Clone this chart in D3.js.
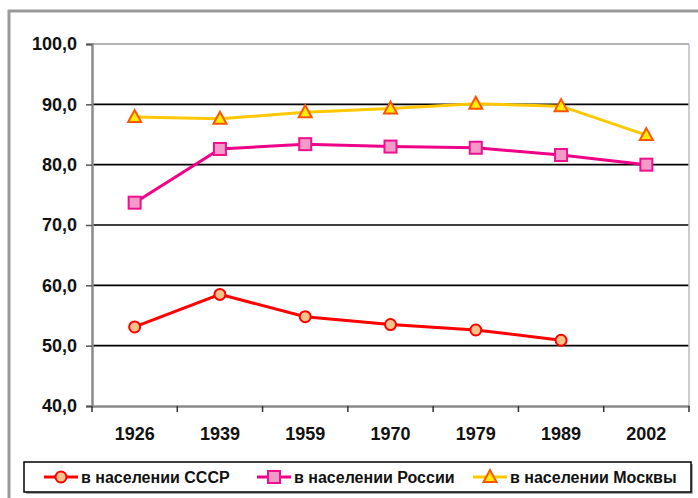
<!DOCTYPE html>
<html><head><meta charset="utf-8">
<script src="https://cdn.jsdelivr.net/npm/d3@7"></script>
<style>body{margin:0;background:#fff}svg{display:block}</style>
</head><body>
<script>
const years = ["1926","1939","1959","1970","1979","1989","2002"];
const seriesNames = ["в населении СССР","в населении России","в населении Москвы"];
const ussr = [53.1, 58.5, 54.8, 53.5, 52.6, 50.9, null];
const russia = [73.7, 82.6, 83.4, 83.0, 82.8, 81.6, 80.0];
const moscow = [87.9, 87.6, 88.7, 89.3, 90.1, 89.7, 84.9];
const yTicks = [40,50,60,70,80,90,100];

const W=698,H=498;
const svg=d3.select("body").append("svg").attr("width",W).attr("height",H);
const font="Liberation Sans, Arial, sans-serif";

// outer border
svg.append("rect").attr("x",9).attr("y",11).attr("width",710).attr("height",510)
  .attr("fill","none").attr("stroke","#9a9a9a").attr("stroke-width",3);

const L=92,R=689,T=44,B=406;
const x=d3.scaleBand().domain(years).range([L,R]);
const y=d3.scaleLinear().domain([40,100]).range([B,T]);

// gridlines
svg.append("g").selectAll("line").data(yTicks.filter(v=>v>40&&v<100)).join("line")
  .attr("x1",L).attr("x2",R).attr("y1",d=>y(d)).attr("y2",d=>y(d))
  .attr("stroke","#000").attr("stroke-width",1.6);
// top & right border
svg.append("line").attr("x1",L).attr("x2",R).attr("y1",T).attr("y2",T).attr("stroke","#9a9a9a").attr("stroke-width",1.5);
svg.append("line").attr("x1",R).attr("x2",R).attr("y1",T).attr("y2",B).attr("stroke","#b8bccc").attr("stroke-width",1.5);

// y axis
const ya=svg.append("g").attr("transform",`translate(${L},0)`)
  .call(d3.axisLeft(y).tickValues(yTicks).tickSize(6).tickFormat(d=>d3.format(".1f")(d).replace(".",",")));
ya.select(".domain").attr("stroke","#8a8a8a").attr("stroke-width",2.5);
ya.selectAll(".tick line").attr("stroke","#555").attr("stroke-width",1.5);
ya.selectAll("text").attr("font-family",font).attr("font-size",18).attr("font-weight","bold").attr("fill","#111").attr("x",-15);

// x axis
const xa=svg.append("g").attr("transform",`translate(0,${B})`)
  .call(d3.axisBottom(x).tickSize(0).tickPadding(21));
xa.select(".domain").attr("stroke","#8a8a8a").attr("stroke-width",2.5);
xa.selectAll("text").attr("font-family",font).attr("font-size",18).attr("font-weight","bold").attr("fill","#111");
// category boundary ticks
svg.append("g").selectAll("line").data(years.map(d=>x(d)).concat([R])).join("line")
  .attr("x1",d=>d).attr("x2",d=>d).attr("y1",B).attr("y2",B+6).attr("stroke","#333").attr("stroke-width",1.5);

const cx=d=>x(d)+x.bandwidth()/2;
const specs=[
  {vals:ussr, line:"#ff0000", shape:"circle", fill:"#f7c38a", stroke:"#ff0000"},
  {vals:russia, line:"#ee0088", shape:"square", fill:"#f49ac8", stroke:"#ee1090"},
  {vals:moscow, line:"#ffc800", shape:"triangle", fill:"#ffee00", stroke:"#ff5500"}
];
function marker(g,shape,fill,stroke,px,py){
  if(shape==="circle") g.append("circle").attr("cx",px).attr("cy",py).attr("r",5.5).attr("fill",fill).attr("stroke",stroke).attr("stroke-width",2);
  else if(shape==="square") g.append("rect").attr("x",px-6).attr("y",py-6).attr("width",12).attr("height",12).attr("fill",fill).attr("stroke",stroke).attr("stroke-width",2);
  else g.append("path").attr("d",`M${px},${py-7}L${px+6.5},${py+5}L${px-6.5},${py+5}Z`).attr("fill",fill).attr("stroke",stroke).attr("stroke-width",2);
}
specs.forEach(s=>{
  const pts=years.map((yr,i)=>({yr,v:s.vals[i]})).filter(p=>p.v!=null);
  svg.append("path").datum(pts).attr("fill","none").attr("stroke",s.line).attr("stroke-width",3)
    .attr("d",d3.line().x(p=>cx(p.yr)).y(p=>y(p.v)));
  const g=svg.append("g");
  pts.forEach(p=>marker(g,s.shape,s.fill,s.stroke,cx(p.yr),y(p.v)));
});

// legend
svg.append("rect").attr("x",26).attr("y",464).attr("width",667).attr("height",30).attr("fill","#aaa");
svg.append("rect").attr("x",24).attr("y",462).attr("width",667).attr("height",30).attr("fill","#fff").attr("stroke","#000").attr("stroke-width",1.5);
const legX=[44,257,473];
specs.forEach((s,i)=>{
  const g=svg.append("g");
  g.append("line").attr("x1",legX[i]).attr("x2",legX[i]+34).attr("y1",477).attr("y2",477).attr("stroke",s.line).attr("stroke-width",3);
  marker(g,s.shape,s.fill,s.stroke,legX[i]+17,477);
  g.append("text").attr("x",legX[i]+37).attr("y",483).text(seriesNames[i])
    .attr("font-family",font).attr("font-size",16).attr("font-weight","bold").attr("fill","#111");
});
</script>
</body></html>
